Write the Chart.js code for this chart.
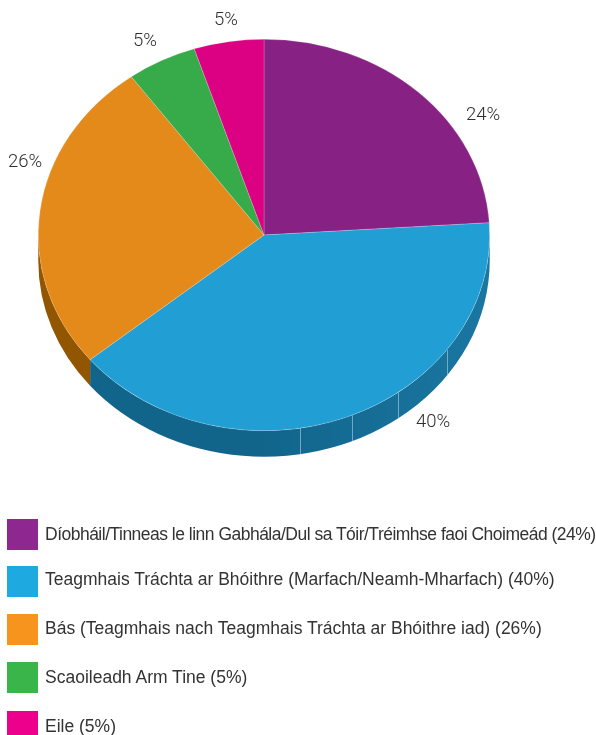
<!DOCTYPE html>
<html>
<head>
<meta charset="utf-8">
<script src="https://cdn.jsdelivr.net/npm/chart.js@4/dist/chart.umd.min.js"></script>
<style>
  html, body { margin: 0; padding: 0; background: #fff; overflow: hidden; }
  #wrap { position: relative; width: 596px; height: 735px; overflow: hidden; }
  #pie { position: absolute; left: 0; top: 0; }
  .row { position: absolute; left: 7px; height: 31px; display: flex; align-items: center; white-space: nowrap;
         font: 17.5px "Liberation Sans", Arial, sans-serif; color: #333; }
  .swatch { width: 31px; height: 31px; margin-right: 7px; flex: none; }
</style>
</head>
<body>
<div id="wrap">
  <canvas id="pie" width="596" height="735" role="img" aria-label="Pie chart of five categories"></canvas>
  <div id="legend"></div>
</div>
<script>
const categories = [
  'Díobháil/Tinneas le linn Gabhála/Dul sa Tóir/Tréimhse faoi Choimeád',
  'Teagmhais Tráchta ar Bhóithre (Marfach/Neamh-Mharfach)',
  'Bás (Teagmhais nach Teagmhais Tráchta ar Bhóithre iad)',
  'Scaoileadh Arm Tine',
  'Eile'
];
const values = [24, 40, 26, 5, 5];
const faceColors = ['#872284', '#219fd5', '#e48a1b', '#37ab4a', '#dc0082'];
const sideColors = ['#5e175c', '#12688f', '#925600', '#26773a', '#99005b'];
const legendColors = ['#8e278f', '#1fa9e1', '#f7941d', '#39b54a', '#ec008c'];

// where the percent labels sit, and the facet seams on the blue side (degrees clockwise from top)
const labelSpots = [[483, 115], [433, 422], [25, 162], [145, 41], [226, 20]];
const seamAngles = [126, 143.6, 157.1, 170.8];

// legend rows are not evenly set in the original
const rowTops = [519, 566, 614, 662, 711];
const rowSpacing = [-0.51, 0, 0, 0, 0];
const rowNudge = [0, -2, -1, 0, 0];

const squash = 196 / 226;
const depth = 26;

const fakePie3d = {
  id: 'fakePie3d',
  beforeDatasetsDraw(chart) {
    const { ctx } = chart;
    const arcs = chart.getDatasetMeta(0).data;
    const cx = arcs[0].x, cy = arcs[0].y, r = arcs[0].outerRadius;
    const ry = r * squash;

    arcs.forEach((arc, i) => {
      const a0 = Math.max(arc.startAngle, 0);
      const a1 = Math.min(arc.endAngle, Math.PI);
      if (a1 <= a0) return;
      ctx.beginPath();
      ctx.ellipse(cx, cy, r, ry, 0, a0, a1);
      ctx.ellipse(cx, cy + depth, r, ry, 0, a1, a0, true);
      ctx.closePath();
      if (i === 1) {
        const g = ctx.createLinearGradient(cx, 0, cx + r, 0);
        g.addColorStop(0, '#11658b');
        g.addColorStop(1, '#1a77a2');
        ctx.fillStyle = g;
      } else {
        ctx.fillStyle = sideColors[i];
      }
      ctx.fill();
    });

    ctx.strokeStyle = 'rgba(190,220,235,0.55)';
    ctx.lineWidth = 1;
    seamAngles.forEach(deg => {
      const t = (deg - 90) * Math.PI / 180;
      const x = Math.round(cx + r * Math.cos(t)) + 0.5;
      const y = cy + ry * Math.sin(t);
      ctx.beginPath();
      ctx.moveTo(x, y);
      ctx.lineTo(x, y + depth);
      ctx.stroke();
    });

    ctx.save();
    ctx.translate(cx, cy);
    ctx.scale(1, squash);
    ctx.translate(-cx, -cy);
  },
  afterDatasetsDraw(chart) {
    const { ctx } = chart;
    ctx.restore();
    ctx.font = '300 18.5px Roboto, sans-serif';
    ctx.fillStyle = '#2f2f2f';
    ctx.textAlign = 'center';
    ctx.textBaseline = 'middle';
    values.forEach((v, i) => {
      ctx.fillText(v + '%', labelSpots[i][0], labelSpots[i][1]);
    });
  }
};

new Chart(document.getElementById('pie'), {
  type: 'pie',
  data: {
    labels: categories,
    datasets: [{
      data: values,
      backgroundColor: faceColors,
      borderColor: 'rgba(255,255,255,0.35)',
      borderWidth: 0.6
    }]
  },
  options: {
    responsive: false,
    animation: false,
    layout: { padding: { left: 38, right: 106, top: 9, bottom: 274 } },
    plugins: { legend: { display: false }, tooltip: { enabled: false } }
  },
  plugins: [fakePie3d]
});

const legend = document.getElementById('legend');
categories.forEach((name, i) => {
  const row = document.createElement('div');
  row.className = 'row';
  row.style.top = rowTops[i] + 'px';
  const sw = document.createElement('span');
  sw.className = 'swatch';
  sw.style.background = legendColors[i];
  const label = document.createElement('span');
  label.textContent = name + ' (' + values[i] + '%)';
  label.style.letterSpacing = rowSpacing[i] + 'px';
  label.style.transform = 'translateY(' + rowNudge[i] + 'px)';
  row.append(sw, label);
  legend.appendChild(row);
});
</script>
</body>
</html>
